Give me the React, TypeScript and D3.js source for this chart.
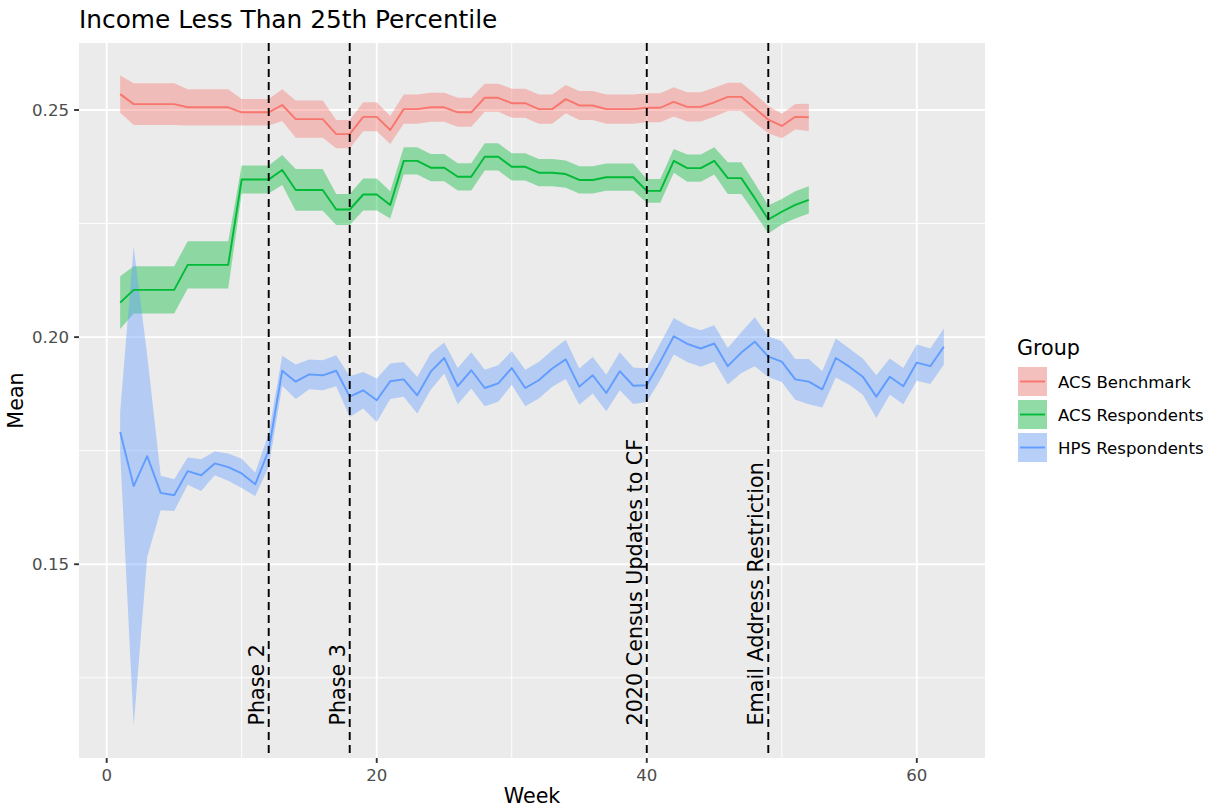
import React, { useRef, useEffect } from "react";
import * as d3 from "d3";

// weekly means and ribbon half-widths, week = index + 1
const acsBenchmarkMean = [
  0.2535, 0.2513, 0.2513, 0.2513, 0.2513, 0.2506, 0.2506, 0.2506, 0.2506, 0.2495,
  0.2495, 0.2495, 0.2511, 0.248, 0.248, 0.248, 0.2447, 0.2447, 0.2485, 0.2485,
  0.2456, 0.2502, 0.2502, 0.2506, 0.2506, 0.2495, 0.2495, 0.2527, 0.2527, 0.2515,
  0.2515, 0.2502, 0.2502, 0.2524, 0.251, 0.251, 0.2502, 0.2502, 0.2502, 0.2505,
  0.2505, 0.2518, 0.2507, 0.2507, 0.2517, 0.2529, 0.2529, 0.2504, 0.2479, 0.2465,
  0.2485, 0.2484,
];
const acsBenchmarkHalf = [
  0.0041, 0.0046, 0.0046, 0.0046, 0.0046, 0.004, 0.004, 0.004, 0.004, 0.0029,
  0.0029, 0.0029, 0.0035, 0.0041, 0.0041, 0.0041, 0.0031, 0.0031, 0.0032, 0.0032,
  0.0031, 0.0032, 0.0032, 0.0032, 0.0032, 0.0032, 0.0032, 0.0031, 0.0031, 0.0032,
  0.0032, 0.0032, 0.0032, 0.0031, 0.0032, 0.0032, 0.0032, 0.0032, 0.0032, 0.0032,
  0.0032, 0.0032, 0.0032, 0.0032, 0.0032, 0.0031, 0.0031, 0.0032, 0.003, 0.0027,
  0.0028, 0.003,
];

const acsRespondentsMean = [
  0.2076, 0.2104, 0.2104, 0.2104, 0.2104, 0.2159, 0.2159, 0.2159, 0.2159, 0.2347,
  0.2347, 0.2347, 0.2368, 0.2324, 0.2324, 0.2324, 0.2281, 0.2281, 0.2314, 0.2314,
  0.2291, 0.2388, 0.2388, 0.2373, 0.2373, 0.2353, 0.2353, 0.2397, 0.2397, 0.2375,
  0.2375, 0.2362, 0.2362, 0.2359, 0.2346, 0.2346, 0.2352, 0.2352, 0.2352, 0.2322,
  0.2322, 0.2388, 0.2372, 0.2372, 0.2388, 0.235, 0.235, 0.2306, 0.2259, 0.2276,
  0.2291, 0.2302,
];
const acsRespondentsHalf = [
  0.0058, 0.0052, 0.0052, 0.0052, 0.0052, 0.0052, 0.0052, 0.0052, 0.0052, 0.0031,
  0.0031, 0.0031, 0.0033, 0.0046, 0.0046, 0.0046, 0.0034, 0.0034, 0.0035, 0.0035,
  0.003, 0.003, 0.003, 0.003, 0.003, 0.003, 0.003, 0.003, 0.003, 0.003,
  0.003, 0.003, 0.003, 0.003, 0.003, 0.003, 0.003, 0.003, 0.003, 0.0026,
  0.0026, 0.0026, 0.003, 0.003, 0.003, 0.0035, 0.0035, 0.0033, 0.0031, 0.0028,
  0.003, 0.003,
];

const hpsRespondentsMean = [
  0.1791, 0.1672, 0.1738, 0.1657, 0.1652, 0.1705, 0.1696, 0.1722, 0.1714, 0.17,
  0.1676, 0.1751, 0.1926, 0.1902, 0.1918, 0.1916, 0.1926, 0.1869, 0.1883, 0.1861,
  0.1903, 0.1907, 0.1872, 0.1924, 0.1954, 0.1892, 0.1927, 0.1888, 0.1898, 0.1932,
  0.1888, 0.1905, 0.1931, 0.1951, 0.1891, 0.1916, 0.1877, 0.1925, 0.1893, 0.1894,
  0.1946, 0.2002, 0.1985, 0.1975, 0.1986, 0.1936, 0.1966, 0.199, 0.1957, 0.1946,
  0.1907, 0.1902, 0.1885, 0.1954, 0.1935, 0.1913, 0.1869, 0.1913, 0.1892, 0.1944,
  0.1936, 0.1979,
];
const hpsRespondentsHalf = [
  0.0045, 0.0527, 0.0222, 0.0038, 0.0035, 0.003, 0.0035, 0.0026, 0.003, 0.0032,
  0.0026, 0.0037, 0.0033, 0.0038, 0.0033, 0.0033, 0.0034, 0.0045, 0.004, 0.0048,
  0.0039, 0.0038, 0.004, 0.004, 0.0034, 0.004, 0.004, 0.004, 0.004, 0.0037,
  0.004, 0.004, 0.004, 0.0043, 0.004, 0.004, 0.004, 0.0042, 0.004, 0.0037,
  0.004, 0.004, 0.004, 0.004, 0.004, 0.004, 0.0045, 0.0054, 0.0045, 0.0045,
  0.0045, 0.005, 0.004, 0.0043, 0.004, 0.004, 0.0047, 0.004, 0.004, 0.004,
  0.0039, 0.004,
];

const groups = ["ACS Benchmark", "ACS Respondents", "HPS Respondents"];
const groupColors = ["#F8766D", "#00BA38", "#619CFF"];

const events = [
  { week: 12, label: "Phase 2" },
  { week: 18, label: "Phase 3" },
  { week: 40, label: "2020 Census Updates to CF" },
  { week: 49, label: "Email Address Restriction" },
];
const eventLabelY = 0.1145;

const xTicks = [0, 20, 40, 60];
const xMinor = [10, 30, 50];
const yTicks = [0.15, 0.2, 0.25];
const yMinor = [0.125, 0.175, 0.225];

const W = 1212;
const H = 808;
const FONT = "DejaVu Sans, Verdana, sans-serif";
const SMALL = 16.6; // tick labels, legend labels
const MEDIUM = 20.7; // axis titles, legend title, event labels
const LARGE = 24.8; // plot title

const App = () => {
  const svgRef = useRef<SVGSVGElement>(null);

  useEffect(() => {
    const svg = d3.select(svgRef.current);
    svg.selectAll("*").remove();

    const panel = { left: 79, right: 985, top: 43, bottom: 758 };

    const series = [
      { name: groups[0], color: groupColors[0], mean: acsBenchmarkMean, half: acsBenchmarkHalf },
      { name: groups[1], color: groupColors[1], mean: acsRespondentsMean, half: acsRespondentsHalf },
      { name: groups[2], color: groupColors[2], mean: hpsRespondentsMean, half: hpsRespondentsHalf },
    ].map((s) => ({
      ...s,
      values: s.mean.map((m, i) => ({ week: i + 1, mean: m, lo: m - s.half[i], hi: m + s.half[i] })),
    }));

    // ggplot-style 5% expansion
    const allPts = series.flatMap((s) => s.values);
    const xExt = d3.extent(allPts, (d) => d.week) as [number, number];
    const yExt = [d3.min(allPts, (d) => d.lo)!, d3.max(allPts, (d) => d.hi)!];
    const xPad = (xExt[1] - xExt[0]) * 0.05;
    const yPad = (yExt[1] - yExt[0]) * 0.05;

    const x = d3
      .scaleLinear()
      .domain([xExt[0] - xPad, xExt[1] + xPad])
      .range([panel.left, panel.right]);
    const y = d3
      .scaleLinear()
      .domain([yExt[0] - yPad, yExt[1] + yPad])
      .range([panel.bottom, panel.top]);

    svg.append("rect").attr("width", W).attr("height", H).attr("fill", "#ffffff");

    // panel
    svg
      .append("rect")
      .attr("x", panel.left)
      .attr("y", panel.top)
      .attr("width", panel.right - panel.left)
      .attr("height", panel.bottom - panel.top)
      .attr("fill", "#EBEBEB");

    const grid = svg.append("g");
    grid
      .selectAll("line.ymin")
      .data(yMinor)
      .join("line")
      .attr("x1", panel.left)
      .attr("x2", panel.right)
      .attr("y1", (d) => y(d))
      .attr("y2", (d) => y(d))
      .attr("stroke", "#fff")
      .attr("stroke-width", 0.95);
    grid
      .selectAll("line.xmin")
      .data(xMinor)
      .join("line")
      .attr("y1", panel.top)
      .attr("y2", panel.bottom)
      .attr("x1", (d) => x(d))
      .attr("x2", (d) => x(d))
      .attr("stroke", "#fff")
      .attr("stroke-width", 0.95);
    grid
      .selectAll("line.ymaj")
      .data(yTicks)
      .join("line")
      .attr("x1", panel.left)
      .attr("x2", panel.right)
      .attr("y1", (d) => y(d))
      .attr("y2", (d) => y(d))
      .attr("stroke", "#fff")
      .attr("stroke-width", 1.9);
    grid
      .selectAll("line.xmaj")
      .data(xTicks)
      .join("line")
      .attr("y1", panel.top)
      .attr("y2", panel.bottom)
      .attr("x1", (d) => x(d))
      .attr("x2", (d) => x(d))
      .attr("stroke", "#fff")
      .attr("stroke-width", 1.9);

    // ribbons first, then lines
    const area = d3
      .area<any>()
      .x((d) => x(d.week))
      .y0((d) => y(d.lo))
      .y1((d) => y(d.hi));
    const line = d3
      .line<any>()
      .x((d) => x(d.week))
      .y((d) => y(d.mean));

    svg
      .append("g")
      .selectAll("path")
      .data(series)
      .join("path")
      .attr("d", (s) => area(s.values))
      .attr("fill", (s) => s.color)
      .attr("fill-opacity", 0.4);

    svg
      .append("g")
      .selectAll("path")
      .data(series)
      .join("path")
      .attr("d", (s) => line(s.values))
      .attr("fill", "none")
      .attr("stroke", (s) => s.color)
      .attr("stroke-width", 1.9)
      .attr("stroke-linejoin", "round");

    // event lines
    svg
      .append("g")
      .selectAll("line")
      .data(events)
      .join("line")
      .attr("x1", (d) => x(d.week))
      .attr("x2", (d) => x(d.week))
      .attr("y1", panel.top)
      .attr("y2", panel.bottom)
      .attr("stroke", "#000")
      .attr("stroke-width", 1.9)
      .attr("stroke-dasharray", "8,5");

    svg
      .append("g")
      .selectAll("text")
      .data(events)
      .join("text")
      .attr("transform", (d) => `translate(${x(d.week) - 5},${y(eventLabelY)}) rotate(-90)`)
      .attr("text-anchor", "start")
      .attr("font-family", FONT)
      .attr("font-size", MEDIUM)
      .attr("fill", "#000")
      .text((d) => d.label);

    // axes
    const xAxis = svg.append("g");
    xAxis
      .selectAll("line")
      .data(xTicks)
      .join("line")
      .attr("x1", (d) => x(d))
      .attr("x2", (d) => x(d))
      .attr("y1", panel.bottom)
      .attr("y2", panel.bottom + 4.9)
      .attr("stroke", "#333")
      .attr("stroke-width", 1.9);
    xAxis
      .selectAll("text")
      .data(xTicks)
      .join("text")
      .attr("x", (d) => x(d))
      .attr("y", panel.bottom + 23)
      .attr("text-anchor", "middle")
      .attr("font-family", FONT)
      .attr("font-size", SMALL)
      .attr("fill", "#4D4D4D")
      .text((d) => d3.format("d")(d));

    const yAxis = svg.append("g");
    yAxis
      .selectAll("line")
      .data(yTicks)
      .join("line")
      .attr("x1", panel.left - 4.9)
      .attr("x2", panel.left)
      .attr("y1", (d) => y(d))
      .attr("y2", (d) => y(d))
      .attr("stroke", "#333")
      .attr("stroke-width", 1.9);
    yAxis
      .selectAll("text")
      .data(yTicks)
      .join("text")
      .attr("x", panel.left - 10)
      .attr("y", (d) => y(d) + 6)
      .attr("text-anchor", "end")
      .attr("font-family", FONT)
      .attr("font-size", SMALL)
      .attr("fill", "#4D4D4D")
      .text((d) => d3.format(".2f")(d));

    svg
      .append("text")
      .attr("x", (panel.left + panel.right) / 2)
      .attr("y", 803)
      .attr("text-anchor", "middle")
      .attr("font-family", FONT)
      .attr("font-size", MEDIUM)
      .attr("fill", "#000")
      .text("Week");

    svg
      .append("text")
      .attr("transform", `translate(23,${(panel.top + panel.bottom) / 2}) rotate(-90)`)
      .attr("text-anchor", "middle")
      .attr("font-family", FONT)
      .attr("font-size", MEDIUM)
      .attr("fill", "#000")
      .text("Mean");

    svg
      .append("text")
      .attr("x", panel.left)
      .attr("y", 28)
      .attr("font-family", FONT)
      .attr("font-size", LARGE)
      .attr("fill", "#000")
      .text("Income Less Than 25th Percentile");

    // legend
    const legend = svg.append("g").attr("transform", "translate(1017,0)");
    legend
      .append("text")
      .attr("x", 0)
      .attr("y", 355)
      .attr("font-family", FONT)
      .attr("font-size", MEDIUM)
      .attr("fill", "#000")
      .text("Group");

    const keys = legend
      .selectAll("g.key")
      .data(series)
      .join("g")
      .attr("transform", (d, i) => `translate(0,${366 + i * 33})`);
    keys
      .append("rect")
      .attr("width", 31)
      .attr("height", 31)
      .attr("fill", "#F2F2F2");
    keys
      .append("rect")
      .attr("x", 0.5)
      .attr("y", 0.5)
      .attr("width", 30)
      .attr("height", 30)
      .attr("fill", (d) => d.color)
      .attr("fill-opacity", 0.4)
      .attr("stroke", "#fff")
      .attr("stroke-width", 1);
    keys
      .append("line")
      .attr("x1", 3)
      .attr("x2", 28)
      .attr("y1", 15.5)
      .attr("y2", 15.5)
      .attr("stroke", (d) => d.color)
      .attr("stroke-width", 1.9);
    keys
      .append("text")
      .attr("x", 41)
      .attr("y", 21.5)
      .attr("font-family", FONT)
      .attr("font-size", SMALL)
      .attr("fill", "#000")
      .text((d) => d.name);
  }, []);

  return (
    <svg
      ref={svgRef}
      width={W}
      height={H}
      style={{ position: "absolute", left: 0, top: 0, display: "block" }}
    ></svg>
  );
};

export default App;
